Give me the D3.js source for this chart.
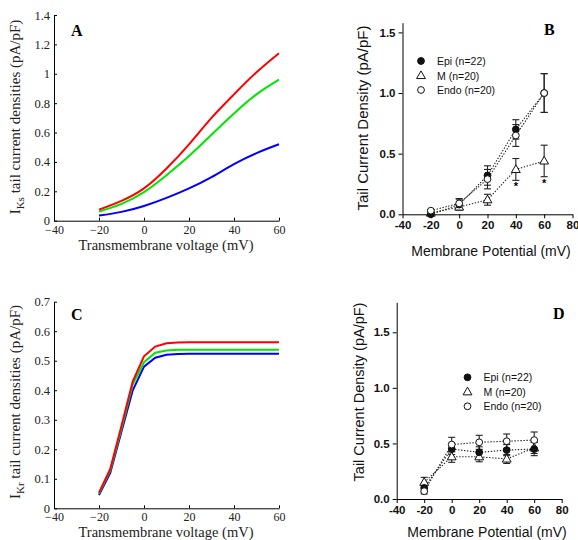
<!DOCTYPE html>
<html>
<head>
<meta charset="utf-8">
<script src="https://cdn.jsdelivr.net/npm/d3@7.9.0/dist/d3.min.js"></script>
<style>
  body { margin: 0; background: #fff; }
  svg { display: block; }
  .serif text { font-family: "Liberation Serif", serif; }
  .sans text { font-family: "Liberation Sans", Arial, sans-serif; }
</style>
</head>
<body>
<svg id="chart" width="578" height="540"></svg>
<script>
// ---- model curves (panels A and C) ----
const voltA = [-20, -10, 0, 10, 20, 30, 40, 50, 60];
const iksEpi = [0.075, 0.135, 0.22, 0.355, 0.52, 0.70, 0.86, 1.01, 1.14];
const iksEndo = [0.063, 0.115, 0.195, 0.31, 0.44, 0.585, 0.73, 0.86, 0.96];
const iksM = [0.035, 0.06, 0.10, 0.155, 0.22, 0.297, 0.385, 0.46, 0.52];

const voltC = [-20, -15, -10, -5, 0, 5, 10, 15, 20, 30, 40, 50, 60];
const ikrEpi = [0.053, 0.133, 0.28, 0.43, 0.515, 0.548, 0.559, 0.562, 0.563, 0.563, 0.563, 0.563, 0.563];
const ikrEndo = [0.050, 0.128, 0.27, 0.42, 0.495, 0.527, 0.535, 0.537, 0.537, 0.537, 0.537, 0.537, 0.537];
const ikrM = [0.045, 0.12, 0.26, 0.40, 0.48, 0.51, 0.52, 0.523, 0.524, 0.524, 0.524, 0.524, 0.524];

// ---- experimental data (panels B and D) ----
const voltExp = [-20, 0, 20, 40, 60];
const legendLabels = ["Epi (n=22)", "M (n=20)", "Endo (n=20)"];

const epiB = [0.0, 0.08, 0.32, 0.70, 1.0];
const epiBErr = [0.01, 0.045, 0.08, 0.08, 0.16];
const mB = [0.01, 0.06, 0.12, 0.37, 0.44];
const mBErr = [0.01, 0.02, 0.045, 0.09, 0.13];
const endoB = [0.03, 0.09, 0.29, 0.65, 1.0];
const endoBErr = [0.01, 0.04, 0.08, 0.09, 0.16];
const starsB = [[40, 0.24], [60, 0.27]];

const epiD = [0.10, 0.45, 0.42, 0.44, 0.45];
const epiDErr = [0.04, 0.05, 0.05, 0.05, 0.06];
const mD = [0.15, 0.38, 0.38, 0.36, 0.46];
const mDErr = [0.045, 0.05, 0.045, 0.04, 0.05];
const endoD = [0.07, 0.49, 0.51, 0.52, 0.53];
const endoDErr = [0.025, 0.065, 0.063, 0.065, 0.073];

const svg = d3.select("#chart");
const minus = (d) => (d < 0 ? "\u2212" + Math.abs(d) : String(d));

function modelPanel(opts) {
  const g = svg.append("g").attr("class", "serif");
  const x = d3.scaleLinear().domain([-40, 60]).range([54, 279]);
  const y = d3.scaleLinear().domain([0, opts.ymax]).range(opts.yRange);

  g.append("g")
    .attr("transform", `translate(0,${opts.yRange[0]})`)
    .call(d3.axisBottom(x).tickValues([-40, -20, 0, 20, 40, 60])
      .tickSize(-3).tickSizeOuter(0).tickPadding(4.5).tickFormat(minus))
    .call((a) => a.selectAll("text").attr("font-size", 12).attr("fill", "#222"));

  g.append("g")
    .attr("transform", `translate(54,0)`)
    .call(d3.axisLeft(y).tickValues(opts.yticks)
      .tickSize(-3).tickSizeOuter(0).tickPadding(4).tickFormat((d) => String(+d.toFixed(1))))
    .call((a) => a.selectAll("text").attr("font-size", 12.5).attr("fill", "#222"));

  const line = d3.line().x((d) => x(d[0])).y((d) => y(d[1])).curve(opts.curve);
  const colors = ["#0000ff", "#00e600", "#ff0000"];
  opts.series.forEach((s, i) => {
    g.append("path")
      .attr("d", line(opts.volt.map((v, j) => [v, s[j]])))
      .attr("fill", "none")
      .attr("stroke", colors[i])
      .attr("stroke-width", 2);
  });

  g.append("text")
    .attr("x", 166).attr("y", opts.yRange[0] + 29)
    .attr("text-anchor", "middle").attr("font-size", 14.5).attr("fill", "#222")
    .text("Transmembrane voltage (mV)");

  const lab = g.append("text")
    .attr("transform", `translate(20,${opts.labelY}) rotate(-90)`)
    .attr("text-anchor", "middle").attr("font-size", 15).attr("fill", "#222");
  lab.append("tspan").text("I");
  lab.append("tspan").attr("font-size", 11).attr("dy", 4).text(opts.sub);
  lab.append("tspan").attr("dy", -4).text(" tail current densities (pA/pF)");

  g.append("text")
    .attr("x", 71).attr("y", opts.letterY)
    .attr("font-size", 16).attr("font-weight", "bold").text(opts.letter);
}

function expPanel(opts) {
  const g = svg.append("g").attr("class", "sans");
  const x = d3.scaleLinear().domain([-40, 80]).range(opts.xRange);
  const y = d3.scaleLinear().domain([0, opts.ymax]).range(opts.yRange);

  g.append("g")
    .attr("transform", `translate(0,${opts.yRange[0]})`)
    .call(d3.axisBottom(x).tickValues([-40, -20, 0, 20, 40, 60, 80])
      .tickSize(4).tickSizeOuter(0).tickPadding(3).tickFormat((d) => String(d)))
    .call((a) => a.selectAll("text").attr("font-size", 11.5).attr("font-weight", "bold").attr("fill", "#111"));

  g.append("g")
    .attr("transform", `translate(${opts.xRange[0]},0)`)
    .call(d3.axisLeft(y).tickValues([0, 0.5, 1, 1.5])
      .tickSize(4).tickSizeOuter(0).tickPadding(3).tickFormat(d3.format(".1f")))
    .call((a) => a.selectAll("text").attr("font-size", 11.5).attr("font-weight", "bold").attr("fill", "#111"));

  const line = d3.line().x((d) => x(d[0])).y((d) => y(d[1]));
  const series = [
    { vals: opts.m, err: opts.mErr, kind: "tri" },
    { vals: opts.epi, err: opts.epiErr, kind: "filled" },
    { vals: opts.endo, err: opts.endoErr, kind: "open" },
  ];

  series.forEach((s) => {
    g.append("path")
      .attr("d", line(voltExp.map((v, j) => [v, s.vals[j]])))
      .attr("fill", "none").attr("stroke", "#222")
      .attr("stroke-width", 1.1).attr("stroke-dasharray", "1.4,1.6");
  });

  series.forEach((s) => {
    voltExp.forEach((v, j) => {
      const cx = x(v);
      const top = y(s.vals[j] + s.err[j]);
      const bot = y(s.vals[j] - s.err[j]);
      const eb = g.append("g").attr("stroke", "#222").attr("stroke-width", 1.1);
      eb.append("line").attr("x1", cx).attr("x2", cx).attr("y1", top).attr("y2", bot);
      eb.append("line").attr("x1", cx - 3.5).attr("x2", cx + 3.5).attr("y1", top).attr("y2", top);
      eb.append("line").attr("x1", cx - 3.5).attr("x2", cx + 3.5).attr("y1", bot).attr("y2", bot);
    });
  });

  const marker = (sel, kind, cx, cy) => {
    if (kind === "tri") {
      sel.append("path")
        .attr("d", d3.symbol(d3.symbolTriangle, 34)())
        .attr("transform", `translate(${cx},${cy + 0.5})`)
        .attr("fill", "#fff").attr("stroke", "#111").attr("stroke-width", 1);
    } else {
      sel.append("circle").attr("cx", cx).attr("cy", cy).attr("r", 3.4)
        .attr("fill", kind === "filled" ? "#111" : "#fff")
        .attr("stroke", "#111").attr("stroke-width", 1);
    }
  };

  series.forEach((s) => {
    voltExp.forEach((v, j) => marker(g, s.kind, x(v), y(s.vals[j])));
  });

  (opts.stars || []).forEach((d) => {
    g.append("text").attr("x", x(d[0])).attr("y", y(d[1]) + 5)
      .attr("text-anchor", "middle").attr("font-size", 11).attr("font-weight", "bold")
      .text("*");
  });

  // legend
  const kinds = ["filled", "tri", "open"];
  legendLabels.forEach((t, i) => {
    const ly = opts.legend[1] + i * 14.5;
    marker(g, kinds[i], opts.legend[0], ly);
    g.append("text").attr("x", opts.legend[0] + 16).attr("y", ly + 4)
      .attr("font-size", 10.5).attr("fill", "#111").text(t);
  });

  g.append("text")
    .attr("x", opts.xLabel[0]).attr("y", opts.xLabel[1])
    .attr("text-anchor", "middle").attr("font-size", 14).attr("fill", "#111")
    .text("Membrane Potential (mV)");

  g.append("text")
    .attr("transform", `translate(${opts.yLabel[0]},${opts.yLabel[1]}) rotate(-90)`)
    .attr("text-anchor", "middle").attr("font-size", opts.yLabelSize).attr("fill", "#111")
    .text("Tail Current Density (pA/pF)");

  svg.append("text")
    .attr("x", opts.letter[0]).attr("y", opts.letter[1])
    .attr("font-family", "Liberation Serif, serif")
    .attr("font-size", 16).attr("font-weight", "bold").text(opts.letter[2]);
}

modelPanel({
  ymax: 1.4, yRange: [220.7, 15], yticks: [0, 0.2, 0.4, 0.6, 0.8, 1, 1.2, 1.4],
  volt: voltA, series: [iksM, iksEndo, iksEpi], curve: d3.curveNatural,
  sub: "Ks", labelY: 117, letter: "A", letterY: 36,
});

modelPanel({
  ymax: 0.7, yRange: [508.3, 301.7], yticks: [0, 0.1, 0.2, 0.3, 0.4, 0.5, 0.6, 0.7],
  volt: voltC, series: [ikrM, ikrEndo, ikrEpi], curve: d3.curveLinear,
  sub: "Kr", labelY: 402, letter: "C", letterY: 320,
});

expPanel({
  xRange: [402.5, 572.5], ymax: 1.58, yRange: [214.3, 22.7],
  epi: epiB, epiErr: epiBErr, m: mB, mErr: mBErr, endo: endoB, endoErr: endoBErr,
  stars: starsB, legend: [421, 61], xLabel: [491, 256], yLabel: [368, 118], yLabelSize: 15,
  letter: [544, 35, "B"],
});

expPanel({
  xRange: [396.7, 561.7], ymax: 1.77, yRange: [499, 302.3],
  epi: epiD, epiErr: epiDErr, m: mD, mErr: mDErr, endo: endoD, endoErr: endoDErr,
  legend: [467.5, 377.3], xLabel: [487, 537], yLabel: [364, 392], yLabelSize: 14.5,
  letter: [553, 319, "D"],
});
</script>
</body>
</html>
